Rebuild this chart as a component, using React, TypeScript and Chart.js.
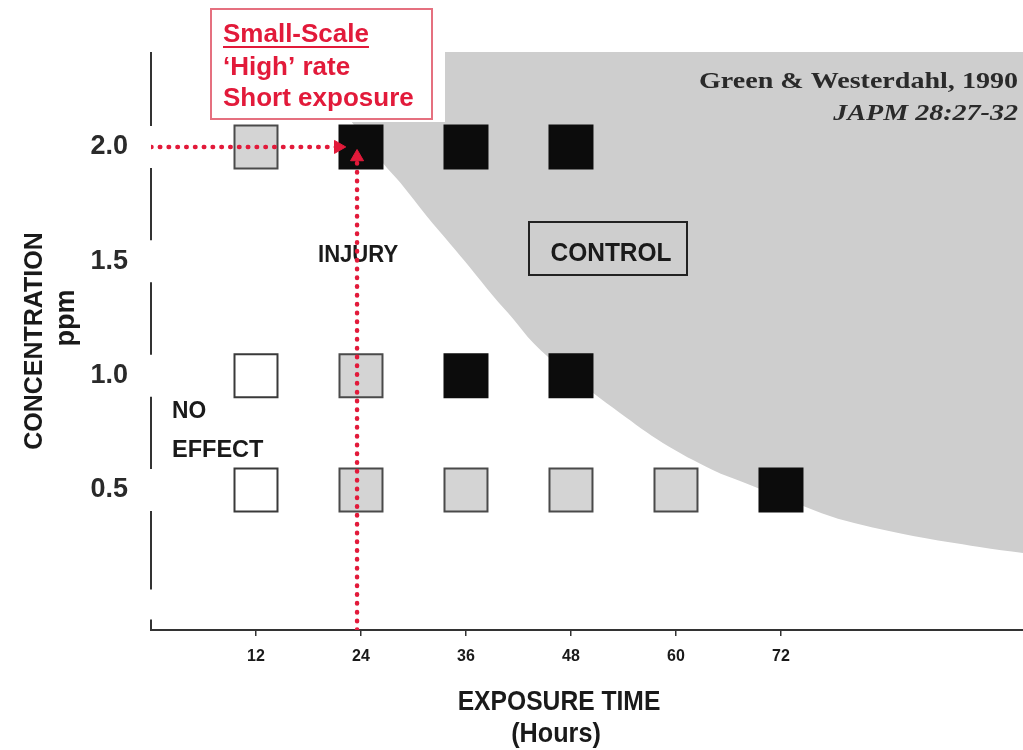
import React, { useEffect, useRef } from "react";
import { Chart, registerables } from "chart.js";
Chart.register(...registerables);

// ---- axis ticks ----
const xTickValues = [12, 24, 36, 48, 60, 72];
const xTickLabels = ["12", "24", "36", "48", "60", "72"];
const yTickValues = [0.5, 1.0, 1.5, 2.0];
const yTickLabels = ["0.5", "1.0", "1.5", "2.0"];
const yAxisGapValues = [0, 0.5, 1.0, 1.5, 2.0];

// ---- observations (exposure hours, concentration ppm) ----
const noEffectHours = [12, 12];
const noEffectPpm = [1.0, 0.5];
const injuryHours = [12, 24, 24, 36, 48, 60];
const injuryPpm = [2.0, 1.0, 0.5, 0.5, 0.5, 0.5];
const controlHours = [24, 36, 48, 36, 48, 72];
const controlPpm = [2.0, 2.0, 2.0, 1.0, 1.0, 0.5];

// ---- shaded control zone boundary ----
const shadeHours = [17.0, 23.2, 26.5, 28.5, 31.5, 34.2, 36.5, 39.1, 41.4, 43.7, 47.1, 50.5, 53.6, 58.5, 64.2, 67.9, 75.7, 79.5, 87.1, 94.7, 99.7];
const shadePpm = [2.415, 2.096, 1.93, 1.843, 1.698, 1.576, 1.471, 1.348, 1.248, 1.143, 1.025, 0.925, 0.837, 0.706, 0.588, 0.531, 0.413, 0.364, 0.299, 0.251, 0.224];

// ---- red dotted arrows ----
const arrowHHours = [0, 21.4];
const arrowHPpm = [2.0, 2.0];
const arrowVHours = [23.55, 23.55];
const arrowVPpm = [-0.112, 1.956];

const X_MIN = 0;
const X_MAX = 99.66;
const Y_MIN = -0.112;
const Y_MAX = 2.415;

const RED = "#e21a3a";
const SANS = "'Liberation Sans', Arial, sans-serif";
const SERIF = "'Liberation Serif', 'Times New Roman', serif";

const pts = (xs: number[], ys: number[]) => xs.map((x, i) => ({ x, y: ys[i] }));

function txt(
  ctx: CanvasRenderingContext2D,
  s: string,
  x: number,
  y: number,
  font: string,
  color: string,
  align: CanvasTextAlign,
  sx = 1,
  rot = 0
) {
  ctx.save();
  ctx.font = font;
  ctx.fillStyle = color;
  ctx.textAlign = align;
  ctx.textBaseline = "alphabetic";
  ctx.translate(x, y);
  if (rot) ctx.rotate(rot);
  ctx.scale(sx, 1);
  ctx.fillText(s, 0, 0);
  ctx.restore();
}

const overlayPlugin = {
  id: "overlay",
  afterDatasetDraw(chart: any, args: any) {
    if (args.index !== 0) return;
    const ctx: CanvasRenderingContext2D = chart.ctx;
    const ya = chart.scales.y;
    const area = chart.chartArea;
    ctx.save();

    // left axis with gaps at value marks
    ctx.strokeStyle = "#333";
    ctx.lineWidth = 2;
    const gaps = yAxisGapValues
      .map((v) => ({ p: ya.getPixelForValue(v), h: v === 0 ? 15 : 21 }))
      .sort((a: any, b: any) => a.p - b.p);
    let start = area.top;
    ctx.beginPath();
    for (const g of gaps) {
      const a = Math.max(area.top, g.p - g.h);
      if (a > start) {
        ctx.moveTo(area.left, start);
        ctx.lineTo(area.left, a);
      }
      start = Math.min(area.bottom - 6, g.p + g.h);
    }
    ctx.moveTo(area.left, start);
    ctx.lineTo(area.left, area.bottom);
    ctx.stroke();

    // red annotation box
    ctx.fillStyle = "#ffffff";
    ctx.fillRect(209, 6, 236, 116);
    ctx.strokeStyle = "#e5707f";
    ctx.lineWidth = 2;
    ctx.strokeRect(211, 9, 221, 110);
    txt(ctx, "Small-Scale", 223, 42, `bold 26px ${SANS}`, RED, "left");
    ctx.font = `bold 26px ${SANS}`;
    const w = ctx.measureText("Small-Scale").width;
    ctx.strokeStyle = RED;
    ctx.lineWidth = 2;
    ctx.beginPath();
    ctx.moveTo(223, 47);
    ctx.lineTo(223 + w, 47);
    ctx.stroke();
    txt(ctx, "\u2018High\u2019 rate", 223, 75, `bold 26px ${SANS}`, RED, "left");
    txt(ctx, "Short exposure", 223, 106, `bold 26px ${SANS}`, RED, "left");

    // citation
    txt(ctx, "Green & Westerdahl, 1990", 1018, 88, `bold 23px ${SERIF}`, "#2a2a2a", "right", 1.22);
    txt(ctx, "JAPM 28:27-32", 1018, 120, `italic bold 23px ${SERIF}`, "#2a2a2a", "right", 1.22);

    // region labels
    txt(ctx, "INJURY", 318, 262, `bold 24px ${SANS}`, "#1a1a1a", "left", 0.92);
    ctx.strokeStyle = "#222";
    ctx.lineWidth = 2;
    ctx.strokeRect(529, 222, 158, 53);
    txt(ctx, "CONTROL", 611, 261, `bold 25px ${SANS}`, "#1a1a1a", "center", 0.98);
    txt(ctx, "NO", 172, 418, `bold 24px ${SANS}`, "#1a1a1a", "left", 0.95);
    txt(ctx, "EFFECT", 172, 457, `bold 24px ${SANS}`, "#1a1a1a", "left", 0.98);
    ctx.restore();
  },
  afterDraw(chart: any) {
    const ctx: CanvasRenderingContext2D = chart.ctx;
    // axis titles
    txt(ctx, "CONCENTRATION", 42, 341, `bold 25px ${SANS}`, "#1a1a1a", "center", 1.0, -Math.PI / 2);
    txt(ctx, "ppm", 74, 318, `bold 27px ${SANS}`, "#1a1a1a", "center", 1.0, -Math.PI / 2);
    txt(ctx, "EXPOSURE TIME", 559, 710, `bold 28px ${SANS}`, "#1a1a1a", "center", 0.88);
    txt(ctx, "(Hours)", 556, 742, `bold 28px ${SANS}`, "#1a1a1a", "center", 0.9);
  },
};

export default function App() {
  const ref = useRef<HTMLCanvasElement | null>(null);
  useEffect(() => {
    if (!ref.current) return;
    const sq = {
      pointStyle: "rect",
      pointRadius: 30.4,
      pointBorderWidth: 2,
      showLine: false,
    };
    const chart = new Chart(ref.current, {
      type: "scatter",
      data: {
        datasets: [
          {
            label: "Control zone",
            data: pts(shadeHours, shadePpm),
            showLine: true,
            fill: "end",
            backgroundColor: "#cecece",
            borderWidth: 0,
            borderColor: "rgba(0,0,0,0)",
            pointRadius: 0,
            tension: 0.35,
            order: 5,
          } as any,
          {
            label: "No effect",
            data: pts(noEffectHours, noEffectPpm),
            ...sq,
            pointBackgroundColor: "#ffffff",
            pointBorderColor: "#3a3a3a",
            order: 3,
          } as any,
          {
            label: "Injury",
            data: pts(injuryHours, injuryPpm),
            ...sq,
            pointBackgroundColor: "#d4d4d4",
            pointBorderColor: "#4a4a4a",
            order: 3,
          } as any,
          {
            label: "Control",
            data: pts(controlHours, controlPpm),
            ...sq,
            pointBackgroundColor: "#0c0c0c",
            pointBorderColor: "#0c0c0c",
            order: 3,
          } as any,
          {
            label: "arrow h",
            data: pts(arrowHHours, arrowHPpm),
            showLine: true,
            borderColor: RED,
            borderWidth: 4.5,
            borderDash: [0.5, 8.3],
            borderCapStyle: "round",
            pointStyle: "triangle",
            pointRadius: [0, 7.5],
            pointRotation: [0, 90],
            pointBackgroundColor: RED,
            pointBorderColor: RED,
            pointBorderWidth: 1,
            order: 1,
          } as any,
          {
            label: "arrow v",
            data: pts(arrowVHours, arrowVPpm),
            showLine: true,
            borderColor: RED,
            borderWidth: 4.5,
            borderDash: [0.5, 8.3],
            borderCapStyle: "round",
            pointStyle: "triangle",
            pointRadius: [0, 7.5],
            pointRotation: [0, 0],
            pointBackgroundColor: RED,
            pointBorderColor: RED,
            pointBorderWidth: 1,
            order: 1,
          } as any,
        ],
      },
      options: {
        animation: false,
        responsive: false,
        events: [],
        layout: { autoPadding: false, padding: { top: 52, left: 0, right: 0, bottom: 0 } },
        plugins: { legend: { display: false }, tooltip: { enabled: false } },
        scales: {
          x: {
            type: "linear",
            min: X_MIN,
            max: X_MAX,
            afterFit: (s: any) => {
              s.height = 120;
              s.paddingLeft = 0;
              s.paddingRight = 0;
            },
            afterBuildTicks: (s: any) => {
              s.ticks = xTickValues.map((v) => ({ value: v }));
            },
            grid: {
              display: true,
              drawOnChartArea: false,
              drawTicks: true,
              tickLength: 6,
              color: "#333",
              lineWidth: 1.5,
            },
            border: { display: true, color: "#333", width: 2 },
            ticks: {
              autoSkip: false,
              maxRotation: 0,
              padding: 11,
              color: "#1a1a1a",
              font: { family: SANS, size: 16, weight: "bold" },
              callback: (v: any) => {
                const i = xTickValues.indexOf(Number(v));
                return i >= 0 ? xTickLabels[i] : "";
              },
            },
          },
          y: {
            type: "linear",
            min: Y_MIN,
            max: Y_MAX,
            afterFit: (s: any) => {
              s.width = 151;
              s.paddingTop = 0;
              s.paddingBottom = 0;
            },
            afterBuildTicks: (s: any) => {
              s.ticks = yTickValues.map((v) => ({ value: v }));
            },
            grid: { display: false, drawTicks: false },
            border: { display: false },
            ticks: {
              autoSkip: false,
              padding: 23,
              color: "#2a2a2a",
              font: { family: SANS, size: 27, weight: "bold" },
              callback: (v: any) => {
                const i = yTickValues.indexOf(Number(v));
                return i >= 0 ? yTickLabels[i] : "";
              },
            },
          },
        },
      } as any,
      plugins: [overlayPlugin],
    });
    return () => chart.destroy();
  }, []);
  return (
    <div style={{ position: "absolute", left: 0, top: 0, width: 1023, height: 750, background: "#fff" }}>
      <canvas ref={ref} width={1023} height={750} style={{ display: "block" }} />
    </div>
  );
}
